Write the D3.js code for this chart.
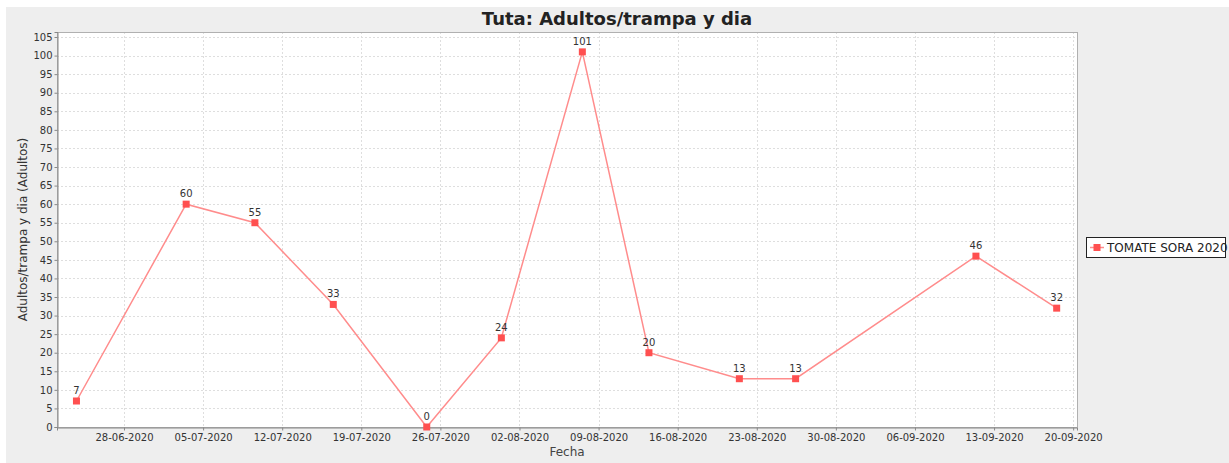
<!DOCTYPE html>
<html lang="es">
<head>
    <meta charset="UTF-8">
    <title>Tuta: Adultos/trampa y dia</title>
    <style>
        body { margin: 0; background: #fff; }
        svg { display: block; font-family: "DejaVu Sans", sans-serif; }
    </style>
</head>
<body>
    <svg width="1229" height="463"></svg>
    <script src="https://d3js.org/d3.v7.min.js"></script>
    <script>
        // fechas de muestreo y adultos/trampa y dia
        const fechas = [
            "2020-06-23T19:00", "2020-07-03T12:00", "2020-07-09T14:00", "2020-07-16T12:30",
            "2020-07-24T19:00", "2020-07-31T09:30", "2020-08-07T13:30", "2020-08-13T11:00",
            "2020-08-21T11:00", "2020-08-26T10:30", "2020-09-11T09:30", "2020-09-18T13:00"
        ]
        const adultos = [7, 60, 55, 33, 0, 24, 101, 20, 13, 13, 46, 32]
        const serie = "TOMATE SORA 2020"
        const rangoX = ["2020-06-22T01:40", "2020-09-20T08:10"]
        const rangoY = [0, 106.35]
        const ticksY = d3.range(0, 106, 5)

        const parse = d3.utcParse("%Y-%m-%dT%H:%M")
        const data = fechas.map((f, i) => ({ fecha: parse(f), valor: adultos[i] }))

        const svg = d3.select('svg')
        const pL = 57, pT = 32, pR = 1077, pB = 427

        svg.append('rect').attr('x', 6).attr('y', 7).attr('width', 1223).attr('height', 456).attr('fill', '#eeeeee')
        svg.append('rect').attr('x', pL).attr('y', pT).attr('width', pR - pL).attr('height', pB - pT).attr('fill', '#fff')

        const x = d3.scaleUtc().domain(rangoX.map(parse)).range([pL, pR])
        const y = d3.scaleLinear().domain(rangoY).range([pB, pT])
        const ticksX = d3.utcSunday.every(1).range(parse("2020-06-28T00:00"), parse("2020-09-21T00:00"))

        // rejilla
        const grid = svg.append('g').attr('stroke', '#dedede').attr('stroke-dasharray', '2,2').attr('stroke-width', 1)
        grid.selectAll('.gy').data(ticksY.slice(1)).enter().append('line')
            .attr('x1', pL).attr('x2', pR)
            .attr('y1', d => Math.round(y(d)) + 0.5).attr('y2', d => Math.round(y(d)) + 0.5)
        grid.selectAll('.gx').data(ticksX).enter().append('line')
            .attr('y1', pT).attr('y2', pB)
            .attr('x1', d => Math.round(x(d)) + 0.5).attr('x2', d => Math.round(x(d)) + 0.5)

        // borde del area
        svg.append('rect').attr('x', pL + 0.5).attr('y', pT + 0.5).attr('width', pR - pL).attr('height', pB - pT)
            .attr('fill', 'none').attr('stroke', '#b0b0b0')

        // ejes
        const ax = svg.append('g').attr('transform', `translate(0,${pB + 0.5})`)
            .call(d3.axisBottom(x).tickValues(ticksX).tickFormat(d3.utcFormat('%d-%m-%Y')).tickSize(3).tickPadding(3))
        const ay = svg.append('g').attr('transform', `translate(${pL + 0.5},0)`)
            .call(d3.axisLeft(y).tickValues(ticksY).tickSize(3).tickPadding(2))
        ;[ax, ay].forEach(a => {
            a.select('.domain').attr('stroke', '#888')
            a.selectAll('.tick line').attr('stroke', '#888')
            a.selectAll('.tick text').attr('fill', '#333').style('font-size', '10px').style('font-family', '"DejaVu Sans", sans-serif')
        })

        // titulo y etiquetas
        svg.append('text').attr('x', 617).attr('y', 25).attr('text-anchor', 'middle')
            .style('font-size', '18px').style('font-weight', 'bold').attr('fill', '#222')
            .text('Tuta: Adultos/trampa y dia')
        svg.append('text').attr('x', (pL + pR) / 2).attr('y', 456).attr('text-anchor', 'middle')
            .style('font-size', '12px').attr('fill', '#444').text('Fecha')
        svg.append('text').attr('transform', `translate(27,${(pT + pB) / 2}) rotate(-90)`).attr('text-anchor', 'middle')
            .style('font-size', '12px').attr('fill', '#333').text('Adultos/trampa y dia (Adultos)')

        // serie
        const line = d3.line().x(d => x(d.fecha)).y(d => y(d.valor))
        svg.append('path').datum(data).attr('d', line)
            .attr('fill', 'none').attr('stroke', '#ff8c8c').attr('stroke-width', 1.5)
        svg.selectAll('.pt').data(data).enter().append('rect')
            .attr('x', d => x(d.fecha) - 3.5).attr('y', d => y(d.valor) - 3.5)
            .attr('width', 7).attr('height', 7).attr('fill', '#ff5050')
        svg.selectAll('.lab').data(data).enter().append('text')
            .attr('x', d => x(d.fecha)).attr('y', d => y(d.valor) - 7).attr('text-anchor', 'middle')
            .style('font-size', '10px').attr('fill', '#333').text(d => d.valor)

        // leyenda
        const lg = svg.append('g').attr('transform', 'translate(1086,237)')
        lg.append('rect').attr('x', 0.5).attr('y', 0.5).attr('width', 139).attr('height', 20).attr('fill', '#fff').attr('stroke', '#222')
        lg.append('line').attr('x1', 4).attr('x2', 18).attr('y1', 10.5).attr('y2', 10.5).attr('stroke', '#ff8c8c').attr('stroke-width', 1.5)
        lg.append('rect').attr('x', 7.5).attr('y', 7).attr('width', 7).attr('height', 7).attr('fill', '#ff5050')
        lg.append('text').attr('x', 21).attr('y', 15).style('font-size', '12px').attr('fill', '#222').text(serie)
    </script>
</body>
</html>
